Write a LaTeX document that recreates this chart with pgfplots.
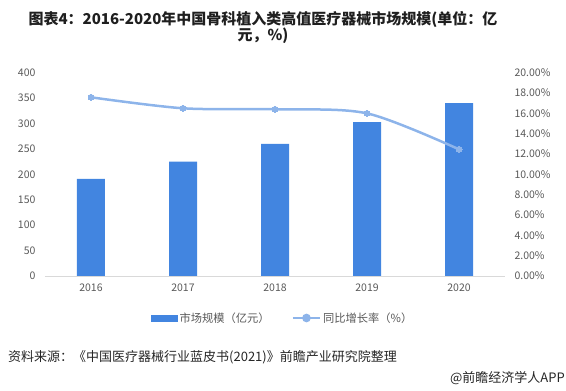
\documentclass[border=0pt]{standalone}
\usepackage{pgfplots}
\pgfplotsset{compat=1.18}
\usepackage{fontspec}
\setmainfont{Noto Sans CJK SC}
\definecolor{barblue}{HTML}{4285E0}
\definecolor{lineblue}{HTML}{8DB4EA}
\definecolor{ticktxt}{HTML}{595959}
\definecolor{basegray}{HTML}{D9D9D9}
\begin{document}
\begin{tikzpicture}[x=1pt,y=1pt]
\pgfplotsset{
  common/.style={scale only axis, width=460pt, height=203.3pt,
    xmin=-0.5, xmax=4.5, tick style={draw=none},
    tick label style={font=\fontsize{10.5}{11}\selectfont, text=ticktxt},
    /pgf/number format/assume math mode=true},
}
\begin{axis}[common, name=ax1, ymin=0, ymax=400, ytick={0,50,...,400},
  xtick={0,1,2,3,4}, xticklabels={2016,2017,2018,2019,2020},
  axis x line*=bottom, axis y line*=left,
  y axis line style={draw=none}, x axis line style={basegray},
  yticklabel style={xshift=-6pt}, xticklabel style={yshift=-4pt}]
\addplot[ybar, bar width=28pt, fill=barblue, draw=none] coordinates {(0,191) (1,225) (2,260) (3,303) (4,340)};
\end{axis}
\begin{axis}[common, name=ax2, at={(ax1.south west)}, anchor=south west, ymin=0, ymax=20, ytick={0,2,...,20},
  axis y line*=right, axis x line=none, y axis line style={draw=none},
  yticklabel={\pgfmathprintnumber[fixed,fixed zerofill,precision=2]{\tick}\%},
  yticklabel style={xshift=6pt},
  legend columns=2,
  legend style={draw=none, at={(0.517,-0.2066)}, anchor=center, font=\fontsize{11.25}{12}\selectfont, text=ticktxt, /tikz/every even column/.append style={column sep=20pt}},
  ]
\addlegendimage{area legend, legend image code/.code={\fill[barblue] (0pt,-3pt) rectangle (26pt,3pt);}}
\addlegendentry{市场规模（亿元）}
\addplot[lineblue, line width=2.5pt, smooth, mark=*, mark size=3pt, mark options={fill=lineblue, draw=lineblue, line width=0pt},
  legend image code/.code={\draw[lineblue, line width=2.5pt] (0pt,0pt) -- (27pt,0pt); \fill[lineblue] (13.5pt,0pt) circle (3pt);}]
  coordinates {(0,17.58) (1,16.5) (2,16.4) (3,16.0) (4,12.46)};
\addlegendentry{同比增长率（\%）}
\end{axis}
\path (ax1.south west) ++(-45,-115) coordinate (O);
\begin{scope}[shift={(O)}]
\path (0,0) rectangle (566,391);
\node[font=\bfseries\fontsize{15}{15.5}\selectfont, text=black!88, align=center] at (263,363.5) {图表4：2016-2020年中国骨科植入类高值医疗器械市场规模(单位：亿\\元，\%)};
\node[anchor=west, font=\fontsize{13}{14}\selectfont, text=black!85, inner sep=0pt] at (8,34) {资料来源：《中国医疗器械行业蓝皮书(2021)》前瞻产业研究院整理};
\node[anchor=east, font=\fontsize{13}{14}\selectfont, text=black!85, inner sep=0pt] at (565,13) {@前瞻经济学人APP};
\end{scope}
\end{tikzpicture}
\end{document}
